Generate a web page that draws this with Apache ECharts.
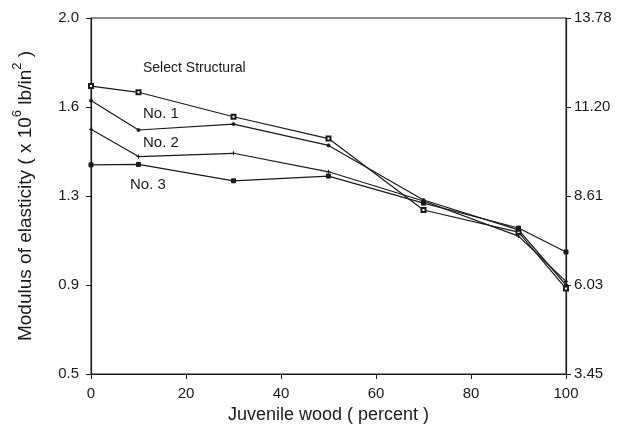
<!DOCTYPE html>
<html><head><meta charset="utf-8">
<script src="https://cdn.jsdelivr.net/npm/echarts@6/dist/echarts.min.js"></script>
<style>html,body{margin:0;padding:0;background:#fff}#c{width:620px;height:432px}</style>
</head><body><div id="c"></div>
<script>
const xValues = [0, 10, 30, 50, 70, 90, 100];
const selectStructural = [1.713, 1.687, 1.584, 1.492, 1.191, 1.098, 0.86];
const no1 = [1.652, 1.528, 1.553, 1.463, 1.233, 1.107, 0.875];
const no2 = [1.531, 1.416, 1.43, 1.352, 1.229, 1.081, 0.89];
const no3 = [1.381, 1.383, 1.314, 1.334, 1.22, 1.115, 1.014];
const leftTickValues = [0.5, 0.875, 1.25, 1.625, 2.0];
const leftTickLabels = ['0.5', '0.9', '1.3', '1.6', '2.0'];
const rightTickLabels = ['3.45', '6.03', '8.61', '11.20', '13.78'];
const xTickValues = [0, 20, 40, 60, 80, 100];

const ink = '#1a1a1a';
const font = 'Liberation Sans, Arial, Helvetica, sans-serif';
function pairs(arr){ return xValues.map((x,i)=>[x, arr[i]]); }
function ser(name, data, symbol, size){
  return {name, type:'line', data:pairs(data), symbol, symbolSize:size,
    lineStyle:{color:ink,width:1.2}, itemStyle:{color:ink,borderColor:ink},
    emphasis:{disabled:true}, animation:false};
}
const chart = echarts.init(document.getElementById('c'), null, {renderer:'canvas'});
chart.setOption({
  backgroundColor:'#fff',
  animation:false,
  grid:{left:91, right:54, top:18, bottom:58, show:true, borderColor:ink, borderWidth:1, backgroundColor:'transparent'},
  xAxis:{type:'value', min:0, max:100, interval:20,
    axisLine:{show:true,lineStyle:{color:ink,width:1.2}},
    axisTick:{show:true,inside:false,length:5,lineStyle:{color:ink}},
    axisLabel:{color:ink,fontSize:15,fontFamily:font,margin:12, customValues:xTickValues},
    splitLine:{show:false},
    name:'Juvenile wood ( percent )', nameLocation:'middle', nameGap:29,
    nameTextStyle:{color:ink,fontSize:18,fontFamily:font}},
  yAxis:[{type:'value', min:0.5, max:2.0, position:'left',
    axisLine:{show:true,lineStyle:{color:ink,width:1.2}},
    axisTick:{show:true,length:5,lineStyle:{color:ink},customValues:leftTickValues},
    axisLabel:{color:ink,fontSize:15,fontFamily:font,margin:12,customValues:leftTickValues,
      formatter:(v)=>{const i=leftTickValues.findIndex(t=>Math.abs(t-v)<1e-6);return i>=0?leftTickLabels[i]:'';}},
    splitLine:{show:false},
    name:'{b|Modulus of elasticity ( x 10}{s|6}{b| lb/in}{s|2}{b| )}', nameLocation:'middle', nameGap:56, nameRotate:90,
    nameTextStyle:{color:ink,fontSize:19,fontFamily:font,
      rich:{b:{fontSize:19,fontFamily:font,color:ink,lineHeight:24,verticalAlign:'bottom'},
            s:{fontSize:13,fontFamily:font,color:ink,lineHeight:24,verticalAlign:'top'}}}},
   {type:'value', min:0.5, max:2.0, position:'right',
    axisLine:{show:true,lineStyle:{color:ink,width:1.2}},
    axisTick:{show:true,length:5,lineStyle:{color:ink},customValues:leftTickValues},
    axisLabel:{color:ink,fontSize:15,fontFamily:font,margin:8,customValues:leftTickValues,
      formatter:(v)=>{const i=leftTickValues.findIndex(t=>Math.abs(t-v)<1e-6);return i>=0?rightTickLabels[i]:'';}},
    splitLine:{show:false}}],
  series:[
    ser('Select Structural', selectStructural, 'emptyRect', 4),
    ser('No. 1', no1, 'circle', 3),
    ser('No. 2', no2, 'path://M0,-1L0,1M-1,0L1,0', 4),
    ser('No. 3', no3, 'rect', 4)
  ],
  graphic:[
    {type:'text', left:143, top:61, style:{text:'Select Structural', fill:ink, font:'14px '+font}},
    {type:'text', left:143, top:106, style:{text:'No. 1', fill:ink, font:'15px '+font}},
    {type:'text', left:143, top:135, style:{text:'No. 2', fill:ink, font:'15px '+font}},
    {type:'text', left:130, top:177, style:{text:'No. 3', fill:ink, font:'15px '+font}}
  ]
});
</script></body></html>
